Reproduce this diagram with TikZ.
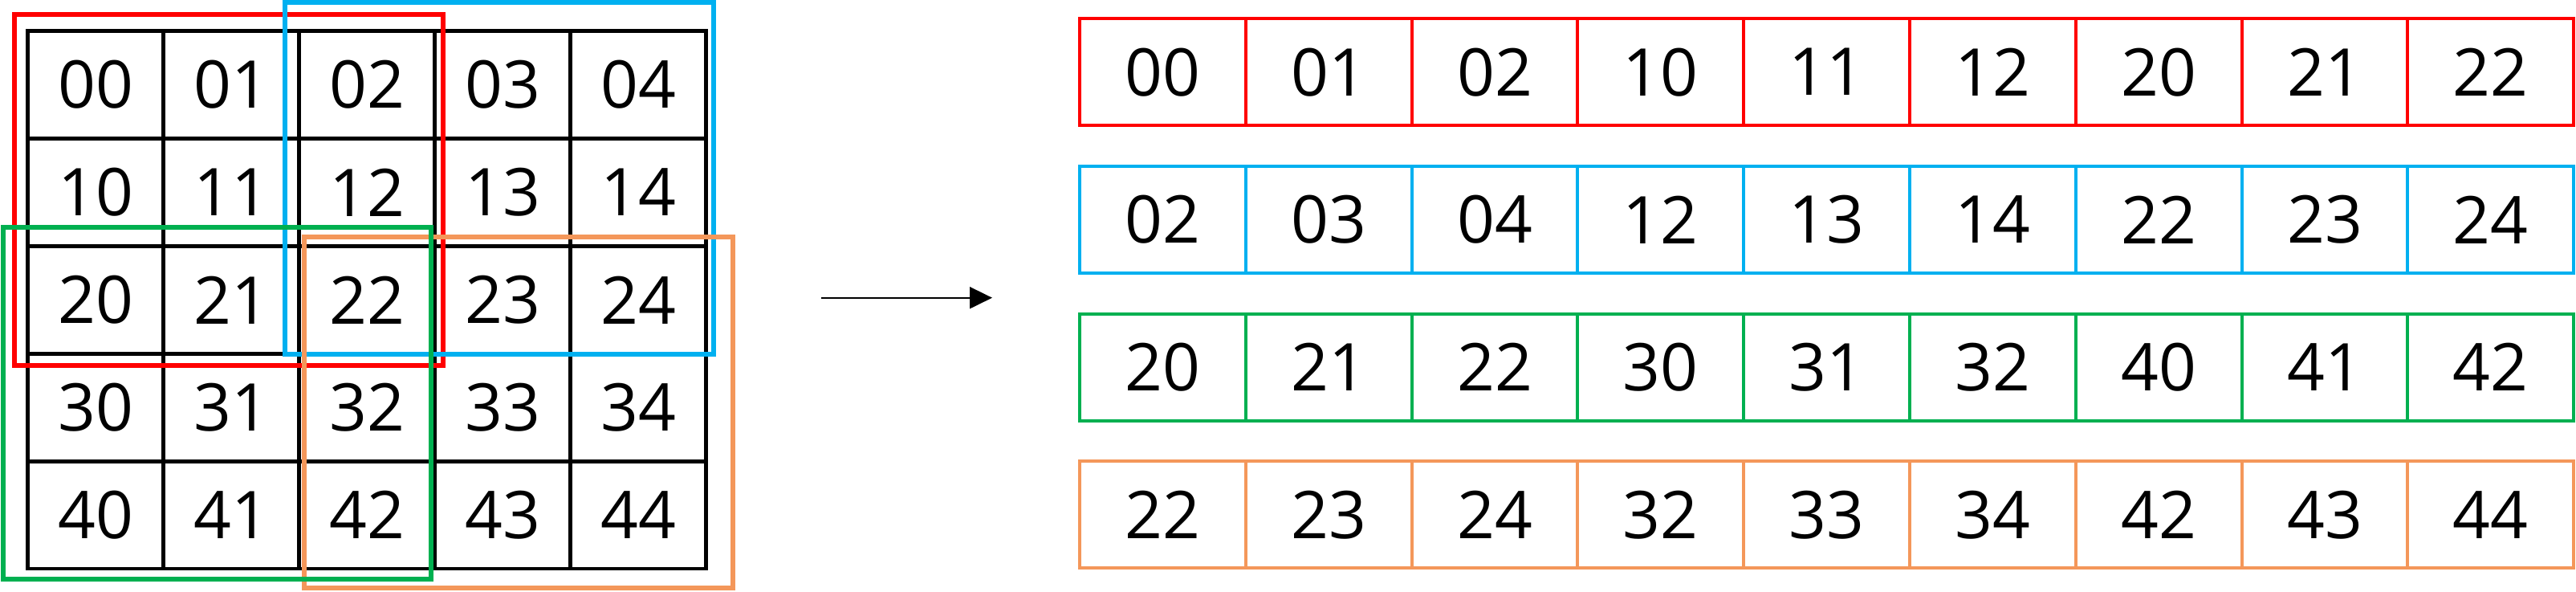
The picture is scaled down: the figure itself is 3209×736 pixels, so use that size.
\documentclass[tikz,border=0pt]{standalone}
\usepackage{fontspec}
\setmainfont{Open Sans}
\usetikzlibrary{arrows.meta}
\definecolor{cred}{HTML}{FF0000}
\definecolor{cblue}{HTML}{00B0F0}
\definecolor{cgreen}{HTML}{00B050}
\definecolor{corange}{HTML}{F4975A}
\begin{document}
\begin{tikzpicture}[x=0.5pt,y=-0.5pt,
  numfont/.style={font=\fontsize{41}{44}\selectfont},
  gcell/.style={draw=black,line width=2.25pt,minimum width=84.5pt,minimum height=67pt,inner sep=0pt,numfont,anchor=north west},
  rcell/.style={draw=#1,line width=2pt,minimum width=103.4pt,minimum height=66.7pt,inner sep=0pt,numfont,anchor=north west},
  selbox/.style={draw=#1,line width=3pt}
]
\useasboundingbox (0,0) rectangle (3209,736);
% left grid
\foreach \r in {0,...,4}{
  \foreach \c in {0,...,4}{
    \node[gcell] (g\r\c) at ({32.3+169*\c},{36.3+133.9*\r}) {\r\c};
  }
}
% selection windows
\draw[selbox=cred] (18.3,18.3) rectangle (552.3,454.7);
\draw[selbox=cblue] (355.3,3) rectangle (889.4,441);
\draw[selbox=corange] (379.3,295) rectangle (912.7,732.3);
\draw[selbox=cgreen] (3.6,283.3) rectangle (537.3,720.5);
% arrow
\coordinate (as) at (1023,370.7);
\coordinate (ae) at (1236,370.7);
\draw[line width=1pt,-{Triangle[length=14pt,width=13.5pt]}] (as) -- (ae);
% flattened rows
\foreach \col/\ty/\labs in {cred/21/{00,01,02,10,11,12,20,21,22},
                            cblue/204.7/{02,03,04,12,13,14,22,23,24},
                            cgreen/388.5/{20,21,22,30,31,32,40,41,42},
                            corange/572/{22,23,24,32,33,34,42,43,44}}{
  \foreach \lab [count=\i from 0] in \labs {
    \node[rcell=\col] (\col-\i) at ({1343+206.8*\i},\ty) {\lab};
  }
}
\end{tikzpicture}
\end{document}
